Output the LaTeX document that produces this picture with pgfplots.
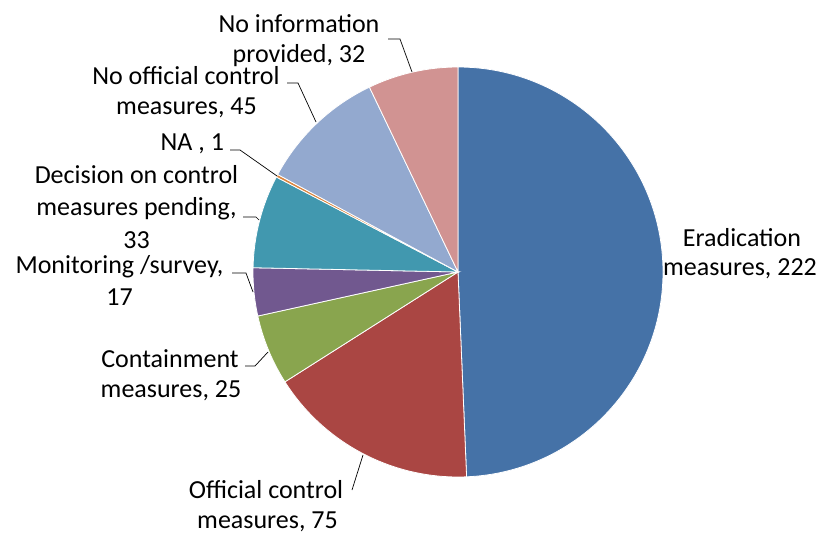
\documentclass[border=0pt]{standalone}
\usepackage{fontspec}
\setmainfont{Carlito}
\usepackage{pgfplots}
\usepackage{pgfplotstable}
\pgfplotsset{compat=1.18}
\definecolor{pie0}{HTML}{4572A7}
\definecolor{pie1}{HTML}{AA4643}
\definecolor{pie2}{HTML}{89A54E}
\definecolor{pie3}{HTML}{71588F}
\definecolor{pie4}{HTML}{4198AF}
\definecolor{pie5}{HTML}{DB843D}
\definecolor{pie6}{HTML}{93A9CF}
\definecolor{pie7}{HTML}{D19392}
% Eradication, Official control, Containment, Monitoring, Decision pending, NA, No official, No information
\pgfplotstableread{
value
222
75
25
17
33
1
45
32
}\piedata
\begin{document}
\begin{tikzpicture}[lbl/.style={anchor=base, inner sep=0pt, text=black, font=\fontsize{26.1}{30}\selectfont}]
\begin{axis}[scale only axis, width=823bp, height=533bp,
  xmin=0, xmax=823, ymin=0, ymax=533, y dir=reverse,
  hide axis, clip=false]
\pgfplotstablegetrowsof{\piedata}
\pgfmathtruncatemacro{\nrows}{\pgfplotsretval-1}
\def\total{0}
\pgfplotsforeachungrouped \i in {0,...,\nrows}{%
  \pgfplotstablegetelem{\i}{value}\of\piedata
  \pgfmathsetmacro{\total}{\total+\pgfplotsretval}%
}
\def\cum{0}
\pgfplotsforeachungrouped \i in {0,...,\nrows}{%
  \pgfplotstablegetelem{\i}{value}\of\piedata
  \pgfmathsetmacro{\angA}{90-(\cum/\total)*360}%
  \pgfmathsetmacro{\cum}{\cum+\pgfplotsretval}%
  \pgfmathsetmacro{\angB}{90-(\cum/\total)*360}%
  \edef\doslice{\noexpand\addplot[fill=pie\i, draw=white, line width=0.8pt] coordinates {(458,272)} -- ([shift={(\angA:205bp)}]axis cs:458,272) arc[start angle=\angA, end angle=\angB, radius=205bp] -- cycle;}%
  \doslice
}
% leader lines
\addplot[black, line width=0.7pt] coordinates {(388,39) (400,39) (412,72)};
\addplot[black, line width=0.7pt] coordinates {(287,83) (298,83) (316,122)};
\addplot[black, line width=0.7pt] coordinates {(230,150) (240,150) (277,176)};
\addplot[black, line width=0.7pt] coordinates {(243,217) (256,217) (259,220)};
\addplot[black, line width=0.7pt] coordinates {(232,273) (246,273) (253,292)};
\addplot[black, line width=0.7pt] coordinates {(245,366) (255,366) (268,352)};
\addplot[black, line width=0.7pt] coordinates {(352,490) (363,455)};
% labels
\node[lbl] at (axis cs:299,33) {No information};
\node[lbl] at (axis cs:299,63) {provided, 32};
\node[lbl] at (axis cs:186,85) {No official control};
\node[lbl] at (axis cs:186.5,115) {measures, 45};
\node[lbl] at (axis cs:192.3,150.7) {NA , 1};
\node[lbl] at (axis cs:136.5,183.3) {Decision on control};
\node[lbl] at (axis cs:136.5,215) {measures pending,};
\node[lbl] at (axis cs:136.5,248) {33};
\node[lbl] at (axis cs:119.5,273) {Monitoring /survey,};
\node[lbl] at (axis cs:119.5,305) {17};
\node[lbl] at (axis cs:170,367) {Containment};
\node[lbl] at (axis cs:171,397) {measures, 25};
\node[lbl] at (axis cs:266,498) {Official control};
\node[lbl] at (axis cs:267.5,528) {measures, 75};
\node[lbl] at (axis cs:742,246) {Eradication};
\node[lbl] at (axis cs:740,275) {measures, 222};
\end{axis}
\pgfresetboundingbox
\path (current axis.south west) rectangle (current axis.north east);
\end{tikzpicture}
\end{document}
